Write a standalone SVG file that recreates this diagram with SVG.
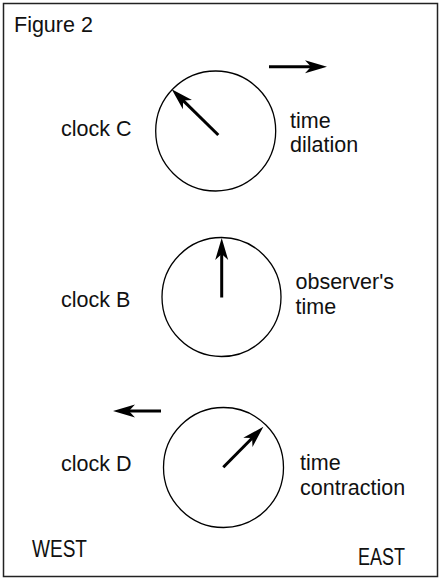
<svg xmlns="http://www.w3.org/2000/svg" width="439" height="579" viewBox="0 0 439 579">
<style>
  text { font-family: "Liberation Sans", Arial, sans-serif; font-size: 21.5px; fill: #111; }
  .dir { font-size: 23px; }
  .face { fill: none; stroke: #000; stroke-width: 1.3; }
  .hand { stroke: #000; stroke-width: 3; fill: none; marker-end: url(#ah); }
</style>
<defs>
  <marker id="ah" markerUnits="userSpaceOnUse" markerWidth="26" markerHeight="16" viewBox="-24 -8 26 16" refX="-14" refY="0" orient="auto" overflow="visible">
    <path d="M0,0 L-22,-6.5 L-16,0 L-22,6.5 Z" fill="#000"/>
  </marker>
</defs>
<rect x="3.5" y="3.5" width="434" height="573" fill="#fff" stroke="#222" stroke-width="1.5"/>
<text x="14" y="32">Figure 2</text>

<g id="clockC">
  <circle class="face" cx="215.7" cy="131" r="60"/>
  <line class="hand" x1="218.3" y1="135" x2="181.7" y2="99.1"/>
  <text x="61" y="135.5">clock C</text>
  <text x="290" y="127.5">time</text>
  <text x="290" y="151.5">dilation</text>
</g>

<g id="clockB">
  <circle class="face" cx="221.5" cy="297" r="59.5"/>
  <line class="hand" x1="221.7" y1="297.5" x2="221.7" y2="252"/>
  <text x="61" y="307">clock B</text>
  <text x="295.5" y="289">observer's</text>
  <text x="295.5" y="314">time</text>
</g>

<g id="clockD">
  <circle class="face" cx="223.5" cy="467.5" r="60"/>
  <line class="hand" x1="223.3" y1="467.3" x2="253.5" y2="436.7"/>
  <text x="61" y="471">clock D</text>
  <text x="300" y="470">time</text>
  <text x="300" y="495">contraction</text>
</g>

<g id="connectors">
  <line class="hand" x1="269" y1="66.7" x2="313" y2="66.7"/>
  <line class="hand" x1="161" y1="411" x2="127" y2="411"/>
</g>

<text class="dir" x="32" y="557" textLength="55" lengthAdjust="spacingAndGlyphs">WEST</text>
<text class="dir" x="358" y="565" textLength="47" lengthAdjust="spacingAndGlyphs">EAST</text>
</svg>
